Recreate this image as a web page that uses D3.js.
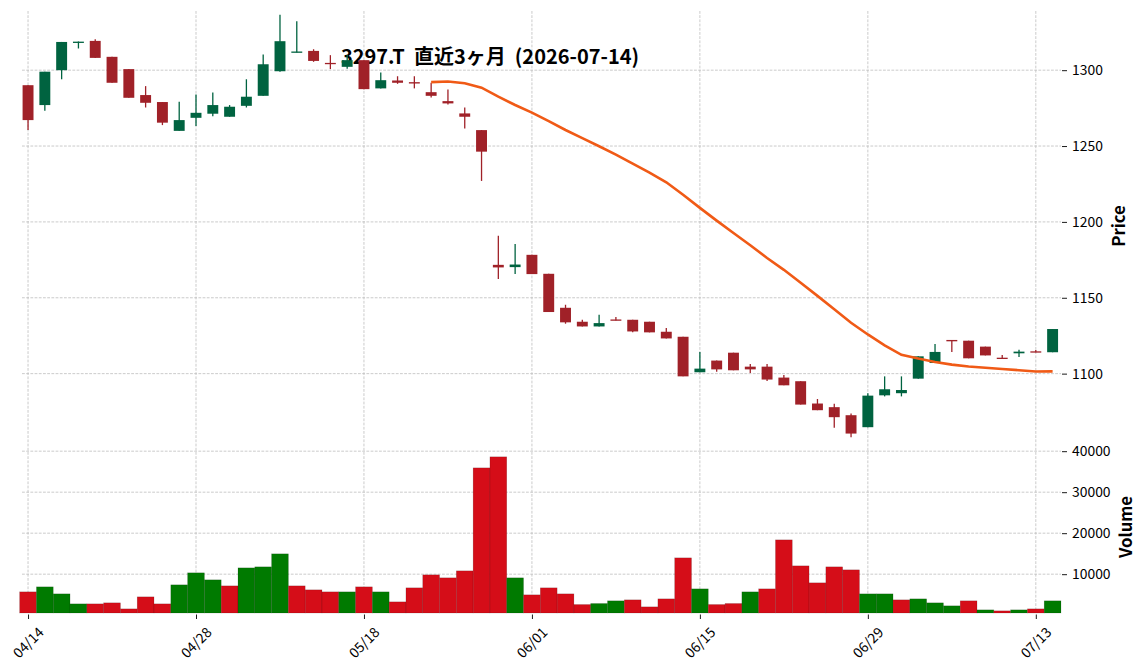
<!DOCTYPE html>
<html><head><meta charset="utf-8">
<script src="https://cdn.jsdelivr.net/npm/d3@7"></script>
<style>
body{margin:0;background:#fff;}
svg{display:block;font-family:'Noto Sans CJK JP','Noto Sans',sans-serif;}
</style>
</head><body>
<svg id="c" width="1144" height="670"></svg>
<script>
// ---- data ----
const opens  = [1290.1,1277,1300,1318,1319.3,1308.8,1300.7,1283.6,1279,1260,
                1268.6,1271.3,1269.3,1276.5,1283.1,1299.3,1311.7,1312.7,1304.8,1302.2,
                1306.6,1288,1293.2,1292.1,1285.5,1279.6,1271.5,1260.5,1171.7,1170.2,
                1178.3,1165.8,1143.4,1134.2,1131.1,1135.7,1135.5,1134.2,1127.6,1124.3,
                1100.9,1108.6,1113.8,1104.6,1104.6,1097.4,1095,1080.3,1077.9,1072.6,
                1064.7,1085.7,1087.1,1096.7,1107,1122.2,1121.7,1117.8,1110.5,1113.4,
                1114.7,1114.1];
const highs  = [1290.1,1299,1318.6,1318.9,1320.4,1308.8,1300.7,1289.5,1279,1279.2,
                1284,1285.3,1277,1294,1310.3,1336.6,1332.2,1313.8,1309.9,1310,
                1306.6,1298.5,1296,1296,1291.7,1287.3,1275.4,1260.5,1190.8,1185.5,
                1178.3,1165.8,1145.4,1135.5,1138.8,1137.3,1135.5,1134.2,1130,1124.3,
                1114.3,1108.6,1113.8,1106.4,1106.4,1099.1,1095,1083.3,1080.1,1073.7,
                1087,1098.2,1098.2,1111.4,1119.5,1122.2,1121.7,1117.8,1112.3,1115.8,
                1115.5,1129.4];
const lows   = [1260.5,1273.2,1294,1314.3,1308.1,1291.7,1281.8,1275.4,1263.8,1260,
                1263.2,1269.7,1269.3,1275.4,1283.1,1298.9,1311.7,1305.5,1300.7,1301,
                1287.5,1288,1291,1288,1282,1277.4,1261.6,1227,1162.3,1165.6,
                1165.6,1140.6,1132.9,1131.1,1131.1,1135.1,1127.2,1127.2,1123.2,1098.2,
                1100.9,1101.3,1102.2,1100.4,1095.2,1092.3,1079.6,1075.9,1064.3,1058,
                1064.7,1085,1085,1096.7,1107,1114.3,1110.1,1112,1110,1111,
                1114.1,1114.1];
const closes = [1267.1,1299,1318.6,1318.8,1308.1,1291.7,1281.8,1278.5,1265.4,1267.1,
                1271.9,1277,1275.9,1282.5,1303.9,1319.1,1312.3,1306.1,1304.2,1306.6,
                1287.5,1293.4,1291.7,1291.2,1283.1,1278.1,1269.3,1246.3,1170,1171.9,
                1165.6,1140.6,1133.8,1131.1,1133.3,1135.1,1127.8,1127.2,1123.2,1098.2,
                1103.3,1102.8,1102.2,1102.8,1096.1,1092.3,1079.6,1075.9,1071.3,1060.5,
                1085.5,1089.7,1089.2,1111.4,1114.3,1121.3,1110.1,1112,1110,1114.5,
                1114.1,1129.4];
const volumes = [5690,6910,5200,2760,2760,3010,1540,4470,2760,7400,
                 10330,8620,7150,11540,11790,14960,7150,6180,5690,5690,
                 6910,5690,3250,6670,9840,9110,10810,35930,38620,9110,
                 4960,6670,5200,2600,2850,3500,3740,2030,3980,13980,
                 6420,2600,2850,5690,6420,18370,12030,7890,11790,11060,
                 5200,5200,3740,3980,3010,2280,3500,1300,1060,1300,
                 1540,3500];
const dateTickIndex  = [0,10,20,30,40,50,60];
const dateTickLabels = ["04/14","04/28","05/18","06/01","06/15","06/29","07/13"];
const priceTicks  = [1100,1150,1200,1250,1300];
const volumeTicks = [10000,20000,30000,40000];
const maPeriod = 25;
const titleText = "3297.T  直近3ヶ月  (2026-07-14)";

// ---- layout / style ----
const L = 22, R = 1061, pTop = 11, pBot = 441, vTop = 441, vBot = 613;
const upC = "#006340", dnC = "#A02128", vUp = "#007a00", vDn = "#d50d18";
const gridC = "#bebebe";

const svg = d3.select("#c");
const n = closes.length;
const x = d3.scaleLinear().domain([-0.36, n - 0.5]).range([L, R]);
const pad = 2.4;
const y = d3.scaleLinear()
  .domain([d3.min(lows) - pad, d3.max(highs) + pad]).range([pBot, pTop]);
const yv = d3.scaleLinear()
  .domain([0.5 * d3.min(volumes), 1.1 * d3.max(volumes)]).range([vBot, vTop]);
const step = x(1) - x(0);

// grid
const g = svg.append("g").attr("stroke", gridC).attr("stroke-width", 0.8)
  .attr("stroke-dasharray", "2.8,1.4").attr("fill", "none");
priceTicks.forEach(t => g.append("line").attr("x1", L).attr("x2", R).attr("y1", y(t)).attr("y2", y(t)));
volumeTicks.forEach(t => g.append("line").attr("x1", L).attr("x2", R).attr("y1", yv(t)).attr("y2", yv(t)));
dateTickIndex.forEach(t => g.append("line").attr("x1", x(t)).attr("x2", x(t)).attr("y1", pTop).attr("y2", vBot));

// title (drawn beneath the candles, as in the reference)
svg.append("text").attr("x", 490).attr("y", 63.5)
  .attr("text-anchor", "middle").attr("font-size", 20).attr("font-weight", "bold")
  .style("white-space", "pre").text(titleText);

// volume bars
const idx = d3.range(n);
const volUp = i => i === 0 ? closes[0] >= opens[0] : closes[i] >= closes[i - 1];
svg.append("g").selectAll("rect").data(idx).join("rect")
  .attr("x", i => x(i) - step / 2).attr("width", step)
  .attr("y", i => yv(volumes[i])).attr("height", i => vBot - yv(volumes[i]))
  .attr("fill", i => volUp(i) ? vUp : vDn)
  .attr("stroke", "rgba(0,0,0,0.22)").attr("stroke-width", 0.6);

// candles
const cw = step * 0.65;
const cg = svg.append("g");
cg.selectAll("line").data(idx).join("line")
  .attr("x1", i => x(i)).attr("x2", i => x(i))
  .attr("y1", i => y(highs[i])).attr("y2", i => y(lows[i]))
  .attr("stroke", i => closes[i] >= opens[i] ? upC : dnC).attr("stroke-width", 1.3);
cg.selectAll("rect").data(idx).join("rect")
  .attr("x", i => x(i) - cw / 2).attr("width", cw)
  .attr("y", i => y(Math.max(opens[i], closes[i])))
  .attr("height", i => Math.max(1.3, Math.abs(y(opens[i]) - y(closes[i]))))
  .attr("fill", i => closes[i] >= opens[i] ? upC : dnC);

// moving average
const ma = idx.filter(i => i >= maPeriod - 1)
  .map(i => [i, d3.mean(closes.slice(i - maPeriod + 1, i + 1))]);
svg.append("path").datum(ma)
  .attr("d", d3.line().x(d => x(d[0])).y(d => y(d[1])))
  .attr("fill", "none").attr("stroke", "#f05a16").attr("stroke-width", 2.6);

// axes
const fs = 13.9;
const ay = svg.append("g").attr("transform", `translate(${R + 1},0)`)
  .call(d3.axisRight(y).tickValues(priceTicks).tickSize(5).tickPadding(5).tickFormat(d3.format("d")));
const av = svg.append("g").attr("transform", `translate(${R + 1},0)`)
  .call(d3.axisRight(yv).tickValues(volumeTicks).tickSize(5).tickPadding(5).tickFormat(d3.format("d")));
const ax = svg.append("g").attr("transform", `translate(0,${vBot + 1.5})`)
  .call(d3.axisBottom(x).tickValues(dateTickIndex).tickSize(4.5).tickFormat((d, i) => dateTickLabels[i]));
[ay, av, ax].forEach(a => {
  a.select(".domain").remove();
  a.selectAll("text").attr("font-size", fs).attr("font-family", "'Noto Sans CJK JP'").attr("fill", "#000");
  a.selectAll("line").attr("stroke", "#000").attr("stroke-width", 0.9);
});
ax.selectAll("text")
  .attr("y", 0).attr("dy", 0)
  .attr("text-anchor", "middle").attr("dominant-baseline", "central")
  .attr("transform", "translate(-1,27.5) rotate(-45)");

// labels
svg.append("text").attr("transform", `translate(1118,${(pTop + pBot) / 2}) rotate(-90)`)
  .attr("text-anchor", "middle").attr("dominant-baseline", "central")
  .attr("font-size", 16.7).attr("font-weight", "bold").text("Price");
svg.append("text").attr("transform", `translate(1125,${(vTop + vBot) / 2}) rotate(-90)`)
  .attr("text-anchor", "middle").attr("dominant-baseline", "central")
  .attr("font-size", 16.7).attr("font-weight", "bold").text("Volume");
</script>
</body></html>
